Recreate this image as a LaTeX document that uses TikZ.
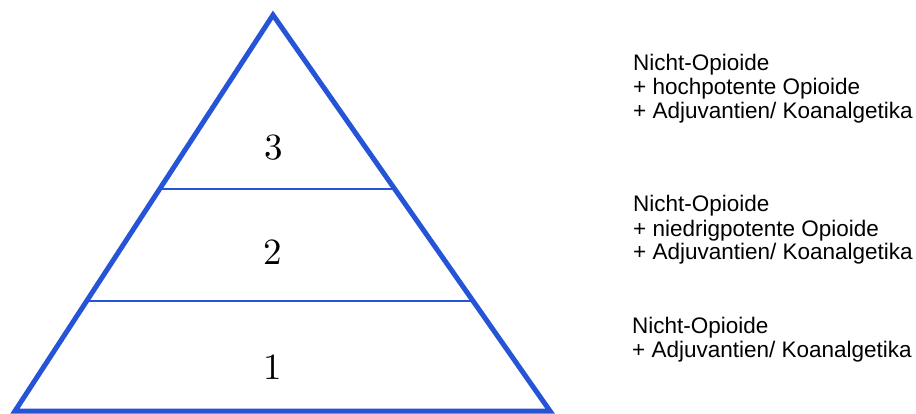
\documentclass[tikz,border=0pt]{standalone}
\usepackage{fontspec}
\setmainfont{Liberation Sans}
\newfontfamily\digitfont{lmroman10-regular.otf}
\usetikzlibrary{calc}
\definecolor{pyr}{RGB}{38,84,214}
\begin{document}
\begin{tikzpicture}[x=1pt,y=-1pt,
  edge/.style={draw=pyr,line width=5pt,line join=miter},
  tier/.style={draw=pyr,line width=2pt},
  num/.style={inner sep=0pt,font=\fontsize{37}{40}\selectfont\digitfont},
  desc/.style={anchor=base west,inner sep=0pt,align=left,font=\fontsize{22.5}{24}\selectfont}]
\useasboundingbox (0,0) rectangle (916,414);
\coordinate (A) at (273,15);
\coordinate (L) at (15,411);
\coordinate (R) at (550,411);
\draw[tier] ($(L)!0.5606!(A)$) coordinate (l2) -- ($(R)!0.5606!(A)$) coordinate (r2);
\draw[tier] ($(L)!0.2778!(A)$) coordinate (l1) -- ($(R)!0.2778!(A)$) coordinate (r1);
\draw[edge] (L) -- (A) -- (R) -- cycle;
\node[num,anchor=base] (n3) at (274,160) {3};
\node[num,anchor=base] (n2) at (273,265) {2};
\node[num,anchor=base] (n1) at (273,379) {1};
\node[desc] (t3) at (633,119) {Nicht-Opioide\\+ hochpotente Opioide\\+ Adjuvantien/ Koanalgetika};
\node[desc] (t2) at (633,260) {Nicht-Opioide\\+ niedrigpotente Opioide\\+ Adjuvantien/ Koanalgetika};
\node[desc] (t1) at (632,357) {Nicht-Opioide\\+ Adjuvantien/ Koanalgetika};
\end{tikzpicture}
\end{document}
